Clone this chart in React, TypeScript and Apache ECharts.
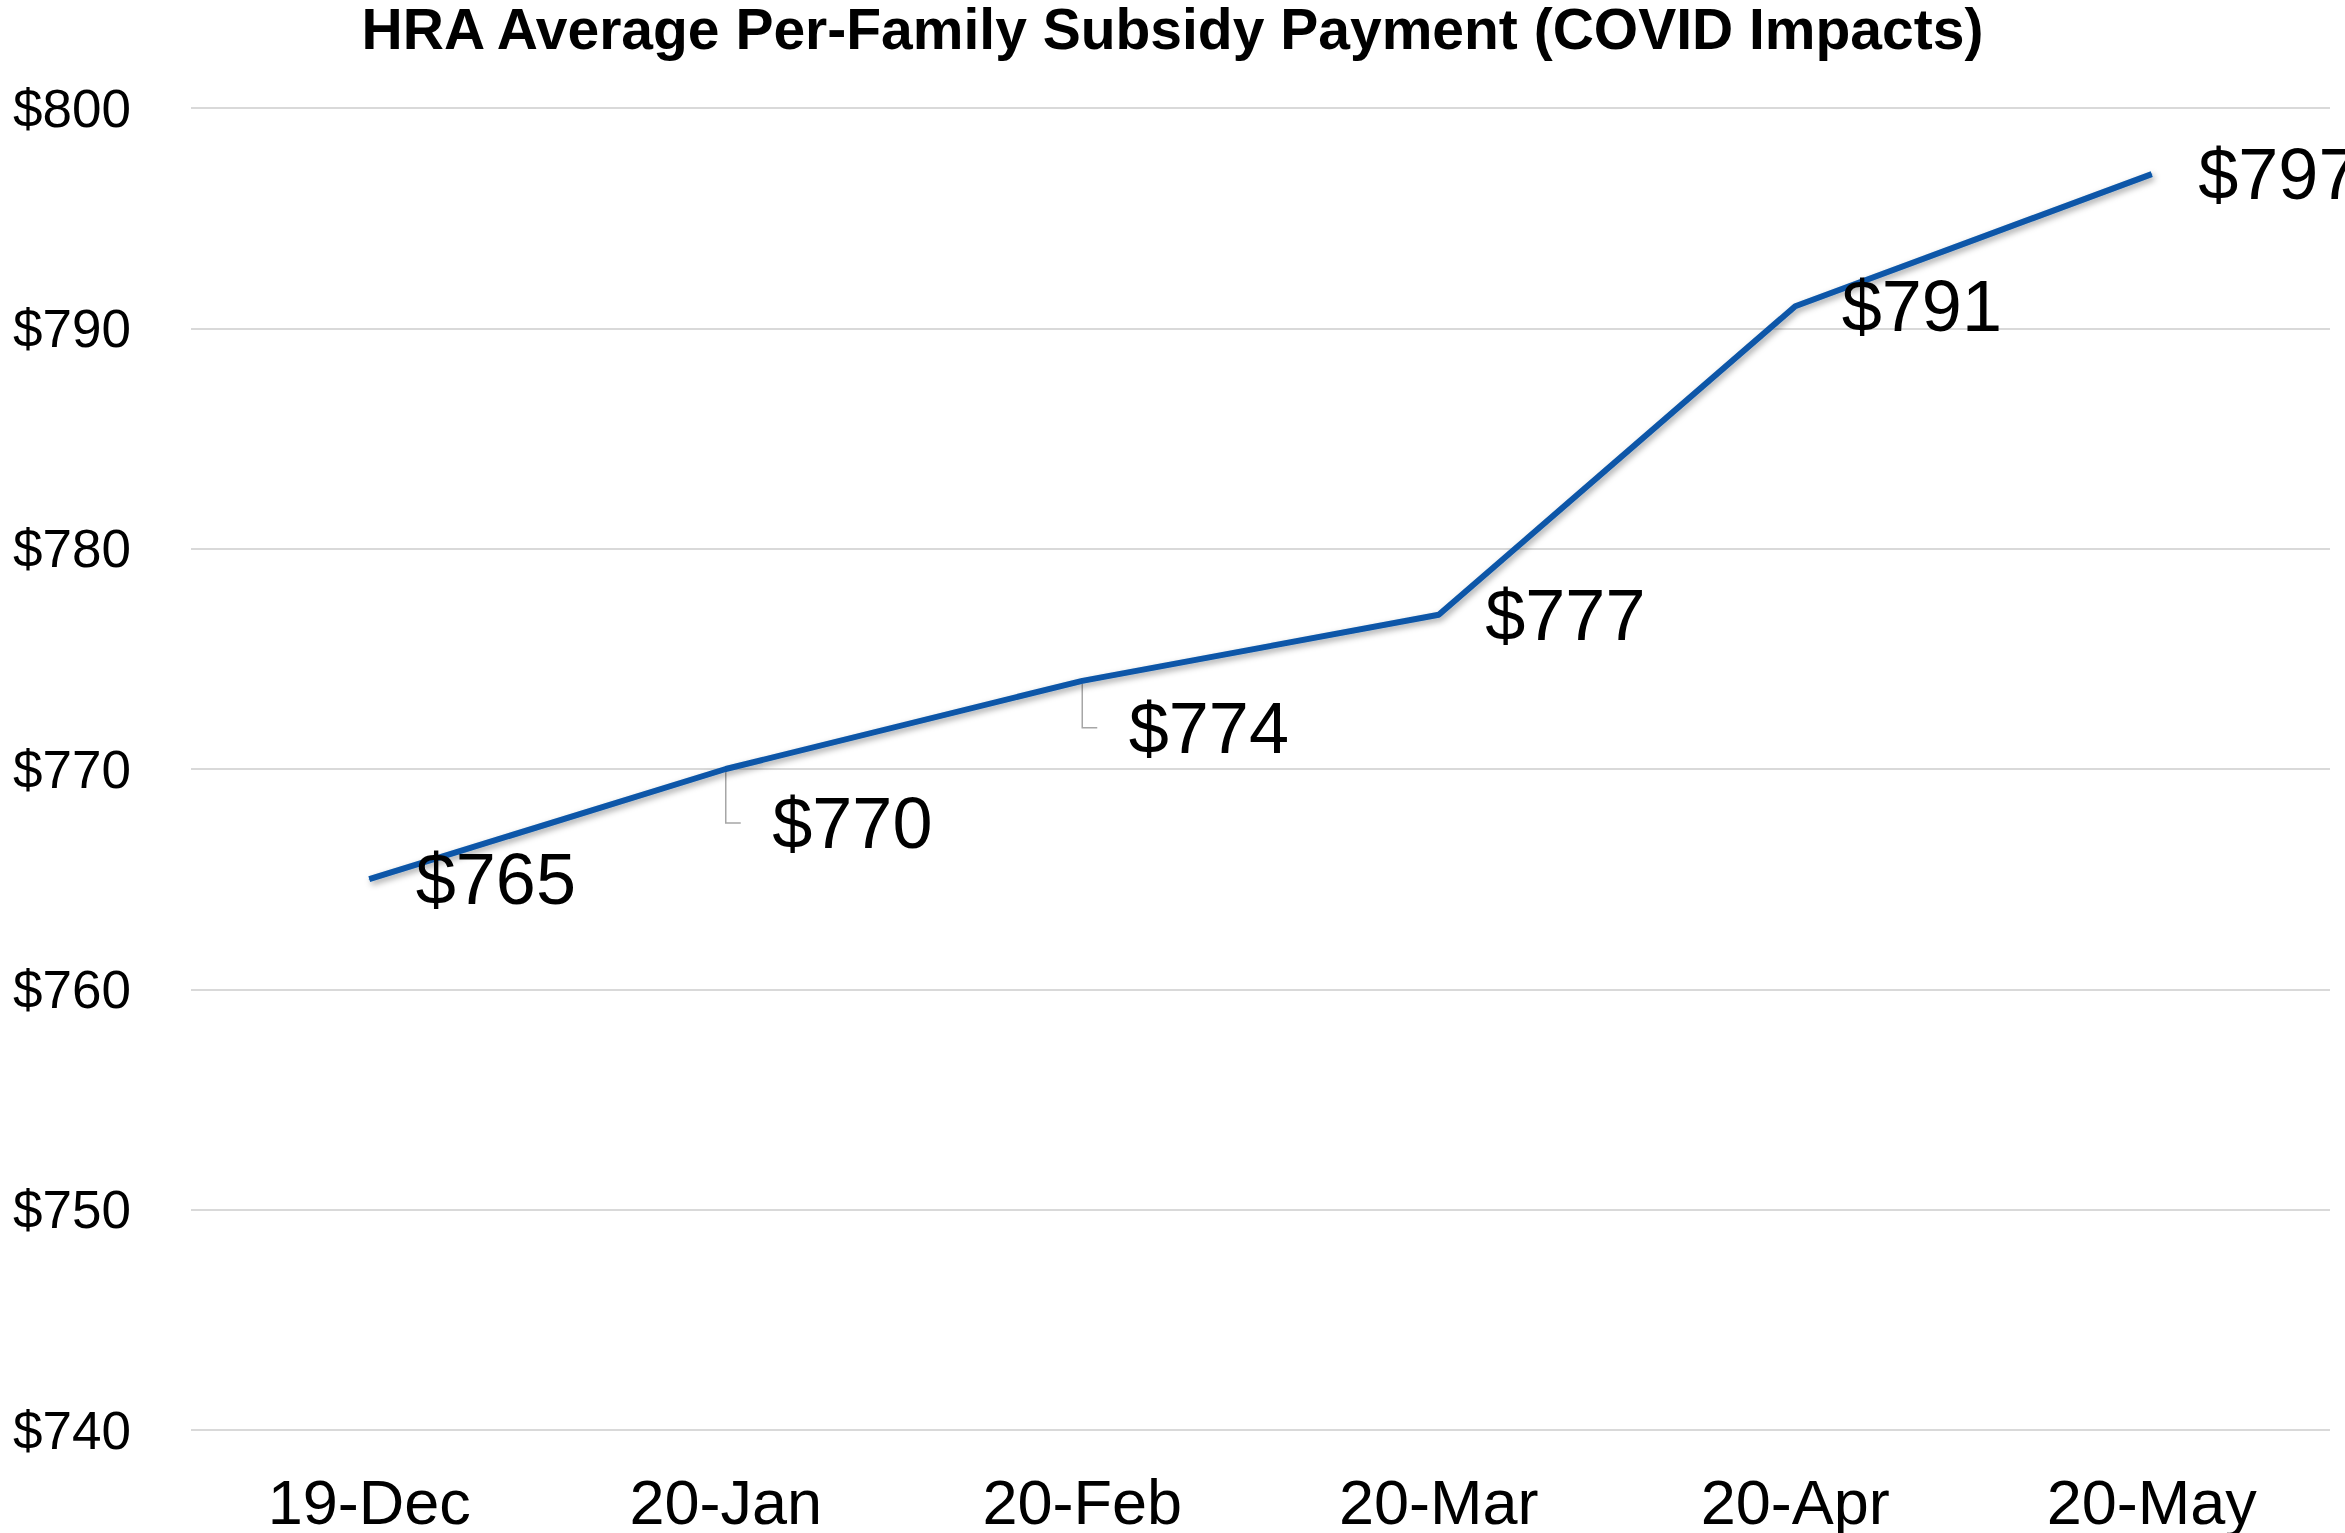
import React, { useEffect, useRef } from "react";
import * as echarts from "echarts";

const categories = ["19-Dec", "20-Jan", "20-Feb", "20-Mar", "20-Apr", "20-May"];
const subsidyValues = [765, 770, 774, 777, 791, 797];
const yMin = 740;
const yMax = 800;
const yStep = 10;
const titleText = "HRA Average Per-Family Subsidy Payment (COVID Impacts)";
const shiftedLabels = [1, 2];

const FONT = "'Liberation Sans', Arial, Helvetica, sans-serif";

function labelShift(i: number) {
  return i === 1 ? 54 : 47;
}

export default function App() {
  const ref = useRef<HTMLDivElement>(null);
  useEffect(() => {
    if (!ref.current) return;
    const chart = echarts.init(ref.current, null, { renderer: "svg" });
    chart.setOption({
      animation: false,
      backgroundColor: "#ffffff",
      title: {
        text: titleText,
        left: "center",
        top: 0,
        padding: 0,
        textStyle: {
          fontFamily: FONT,
          fontWeight: "bold",
          fontSize: 57,
          color: "#000000",
        },
      },
      grid: { left: 191, right: 15, top: 108, bottom: 103, containLabel: false },
      xAxis: {
        type: "category",
        data: categories,
        boundaryGap: true,
        axisLine: { show: false },
        axisTick: { show: false },
        axisLabel: {
          margin: 40,
          fontFamily: FONT,
          fontSize: 63,
          color: "#000000",
        },
      },
      yAxis: {
        type: "value",
        min: yMin,
        max: yMax,
        interval: yStep,
        axisLine: { show: false },
        axisTick: { show: false },
        splitLine: { lineStyle: { color: "#D9D9D9", width: 2 } },
        axisLabel: {
          margin: 60,
          fontFamily: FONT,
          fontSize: 53,
          color: "#000000",
          formatter: (v: number) => "$" + v,
        },
      },
      series: [
        {
          type: "custom",
          data: subsidyValues.map((v, i) => [i, v]),
          silent: true,
          z: 1,
          renderItem: (params: any, api: any) => {
            const i = params.dataIndex;
            if (shiftedLabels.indexOf(i) < 0) return null;
            const pt = api.coord([api.value(0), api.value(1)]);
            const dy = labelShift(i);
            return {
              type: "polyline",
              shape: {
                points: [
                  [pt[0], pt[1] + 3],
                  [pt[0], pt[1] + dy],
                  [pt[0] + 15, pt[1] + dy],
                ],
              },
              style: { stroke: "#A6A6A6", lineWidth: 1.5, fill: "none" },
            };
          },
        },
        {
          type: "line",
          data: subsidyValues,
          z: 2,
          symbol: "circle",
          symbolSize: 1,
          showSymbol: true,
          itemStyle: { color: "#0A56A8" },
          lineStyle: {
            color: "#0A56A8",
            width: 6,
            shadowColor: "rgba(0,0,0,0.35)",
            shadowBlur: 6,
            shadowOffsetX: 2,
            shadowOffsetY: 3,
          },
          label: {
            show: true,
            position: "right",
            distance: 46,
            fontFamily: FONT,
            fontSize: 72,
            color: "#000000",
            formatter: (p: any) => "$" + p.value,
          },
          labelLine: { show: false },
          labelLayout: (params: any) =>
            shiftedLabels.indexOf(params.dataIndex) >= 0
              ? { dy: labelShift(params.dataIndex) }
              : {},
        },
      ],
    });
    return () => chart.dispose();
  }, []);
  return (
    <div
      ref={ref}
      style={{ position: "fixed", left: 0, top: 0, width: 2345, height: 1533 }}
    />
  );
}
